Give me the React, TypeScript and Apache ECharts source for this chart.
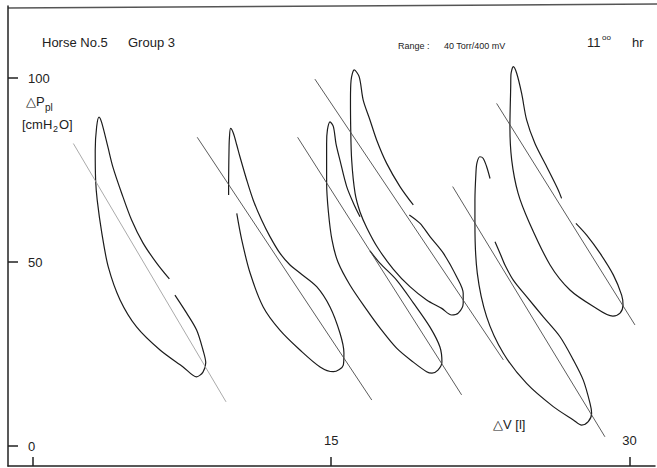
import React, { useEffect, useRef } from "react";
import * as echarts from "echarts";

// axis ticks
const xTickValues = [0, 15, 30];
const xLabelValues = [15, 30];
const yTickValues = [0, 50, 100];

// pressure–volume loops: [ΔV (l), ΔPpl (cmH2O)]
const loop1 = [[6.86,45.4],[6.22,49.7],[5.53,55.2],[4.96,61.4],[4.46,68.7],[4.02,75.8],[3.77,81.2],[3.46,87.8],[3.32,89.4],[3.2,86.7],[3.13,80.4],[3.15,72.3],[3.23,66.8],[3.46,57.9],[3.79,48.6],[4.38,39.7],[5.22,32.3],[6.39,26.1],[7.55,21.5],[8.23,18.8],[8.55,20.1],[8.69,22.6],[8.55,26.1],[8.23,31.5],[7.73,36.1],[7.14,41.0]];
const loop2 = [[9.84,68.2],[9.84,71.4],[9.86,80.4],[9.88,83.7],[9.94,86.3],[10.08,85.0],[10.25,81.8],[10.41,78.6],[10.75,72.3],[11.08,66.8],[11.5,61.4],[11.92,56.9],[12.42,52.4],[12.93,49.2],[13.43,47.0],[14.27,43.3],[14.94,37.8],[15.44,30.7],[15.64,25.3],[15.61,22.0],[15.11,20.2],[14.44,21.5],[13.43,26.1],[12.42,31.5],[11.58,37.8],[10.92,47.0],[10.5,56.0],[10.25,63.2]];
const loop3 = [[16.45,62.3],[16.2,65.0],[15.78,70.5],[15.44,77.7],[15.24,82.2],[15.11,86.8],[14.94,88.1],[14.81,85.9],[14.77,82.3],[14.77,71.5],[14.86,63.6],[15.04,56.0],[15.34,50.0],[15.95,43.7],[16.79,37.0],[17.45,32.1],[18.29,26.6],[19.13,22.8],[19.8,20.2],[20.07,19.8],[20.37,20.6],[20.57,22.8],[20.47,26.9],[19.97,32.3],[19.13,38.9],[18.29,45.1],[17.45,49.7],[16.95,53.0]];
const loop4 = [[19.13,65.5],[18.46,70.5],[17.79,76.8],[17.29,83.1],[16.95,88.6],[16.61,94.0],[16.41,100.3],[16.16,102.2],[16.0,99.4],[15.97,94.0],[15.98,86.8],[16.03,77.7],[16.2,68.7],[16.45,63.6],[16.8,59.2],[17.35,53.8],[18.12,48.1],[18.96,43.3],[19.8,39.7],[20.56,37.4],[21.06,35.6],[21.39,36.1],[21.64,38.8],[21.64,41.5],[21.31,46.0],[20.64,52.4],[19.97,56.9],[19.47,60.5],[18.93,62.8]];
const loop5 = [[22.99,72.7],[22.82,75.9],[22.64,78.2],[22.48,78.6],[22.33,76.9],[22.28,74.1],[22.23,66.8],[22.23,60.5],[22.35,46.9],[22.82,35.1],[23.66,25.2],[24.83,17.0],[26.17,10.7],[27.18,7.1],[27.6,5.7],[27.93,6.6],[28.1,8.9],[28.02,11.6],[27.68,17.9],[27.18,23.4],[26.51,29.7],[25.67,35.1],[24.83,40.6],[24.16,45.1],[23.74,49.2],[23.49,52.4],[23.24,55.5]];
const loop6 = [[26.59,67.3],[26.42,69.6],[25.84,75.9],[25.25,82.2],[24.83,88.6],[24.58,95.8],[24.33,101.3],[24.16,103.1],[24.04,100.8],[24.03,97.6],[23.99,86.8],[24.08,77.7],[24.4,68.7],[24.95,60.9],[26.01,49.2],[27.01,42.4],[28.17,38.0],[29.17,35.3],[29.53,36.1],[29.68,38.3],[29.61,41.0],[29.19,46.5],[28.52,52.4],[27.85,57.3],[27.31,60.5]];

// compliance lines through each loop
const line1 = [[2.03,82.2],[9.71,12.0]];
const line2 = [[8.26,83.9],[17.04,12.5]];
const line3 = [[13.31,83.9],[21.56,13.9]];
const line4 = [[14.18,99.7],[23.66,23.4]];
const line5 = [[21.11,70.5],[28.77,2.5]];
const line6 = [[23.32,93.1],[30.28,32.9]];

const loops = [loop1, loop2, loop3, loop4, loop5, loop6];
const lines = [line1, line2, line3, line4, line5, line6];

const FONT = "Liberation Sans, Arial, sans-serif";

export default function App() {
  const ref = useRef<HTMLDivElement>(null);
  useEffect(() => {
    if (!ref.current) return;
    const chart = echarts.init(ref.current, undefined, { renderer: "svg" });
    const series: any[] = [];
    loops.forEach((d, i) => {
      series.push({
        type: "line",
        name: "loop" + (i + 1),
        data: d,
        smooth: 0.3,
        showSymbol: false,
        lineStyle: { color: "#1c1c1c", width: 1.2 },
        silent: true,
      });
    });
    lines.forEach((d, i) => {
      series.push({
        type: "line",
        name: "line" + (i + 1),
        data: d,
        showSymbol: false,
        lineStyle: { color: i === 0 ? "#a0a0a0" : "#4a4a4a", width: 0.9 },
        silent: true,
      });
    });
    chart.setOption({
      animation: false,
      backgroundColor: "#ffffff",
      grid: { left: 8, right: 2, top: 6, bottom: 2, containLabel: false },
      xAxis: {
        type: "value",
        min: -1.2575,
        max: 31.288,
        axisLine: { show: true, onZero: false, lineStyle: { color: "#222", width: 1.5 } },
        axisTick: { show: true, inside: true, length: 9, customValues: xTickValues, lineStyle: { color: "#222", width: 1.5 } },
        axisLabel: { show: true, inside: true, margin: 19, customValues: xLabelValues, color: "#222", fontSize: 13, fontFamily: FONT },
        splitLine: { show: false },
      },
      yAxis: {
        type: "value",
        min: -5.43,
        max: 119.57,
        axisLine: { show: true, onZero: false, lineStyle: { color: "#222", width: 1.5 } },
        axisTick: { show: true, inside: true, length: 10, customValues: yTickValues, lineStyle: { color: "#222", width: 1.5 } },
        axisLabel: { show: true, inside: true, margin: 20, customValues: yTickValues, color: "#222", fontSize: 13, fontFamily: FONT },
        splitLine: { show: false },
      },
      graphic: [
        { type: "line", shape: { x1: 8, y1: 8, x2: 657, y2: 4 }, style: { stroke: "#555", lineWidth: 1.5 } },
        { type: "text", left: 42, top: 36, style: { text: "Horse No.5", font: `13px ${FONT}`, fill: "#222" } },
        { type: "text", left: 128, top: 36, style: { text: "Group 3", font: `13px ${FONT}`, fill: "#222" } },
        { type: "text", left: 398, top: 41, style: { text: "Range :", font: `9px ${FONT}`, fill: "#222" } },
        { type: "text", left: 444, top: 41, style: { text: "40 Torr/400 mV", font: `9px ${FONT}`, fill: "#222" } },
        { type: "text", left: 587, top: 36, style: { text: "11", font: `13px ${FONT}`, fill: "#222" } },
        { type: "text", left: 602, top: 33, style: { text: "oo", font: `8px ${FONT}`, fill: "#222" } },
        { type: "text", left: 632, top: 36, style: { text: "hr", font: `13px ${FONT}`, fill: "#222" } },
        { type: "text", left: 26, top: 95, style: { text: "\u25B3P", font: `13px ${FONT}`, fill: "#222" } },
        { type: "text", left: 45, top: 102, style: { text: "pl", font: `10px ${FONT}`, fill: "#222" } },
        { type: "text", left: 22, top: 118, style: { text: "[cmH", font: `13px ${FONT}`, fill: "#222" } },
        { type: "text", left: 53, top: 124, style: { text: "2", font: `9px ${FONT}`, fill: "#222" } },
        { type: "text", left: 59, top: 118, style: { text: "O]", font: `13px ${FONT}`, fill: "#222" } },
        { type: "text", left: 493, top: 418, style: { text: "\u25B3V [l]", font: `13px ${FONT}`, fill: "#222" } },
      ],
      series,
    });
    return () => chart.dispose();
  }, []);
  return <div ref={ref} style={{ width: 657, height: 468, position: "absolute", left: 0, top: 0 }} />;
}
